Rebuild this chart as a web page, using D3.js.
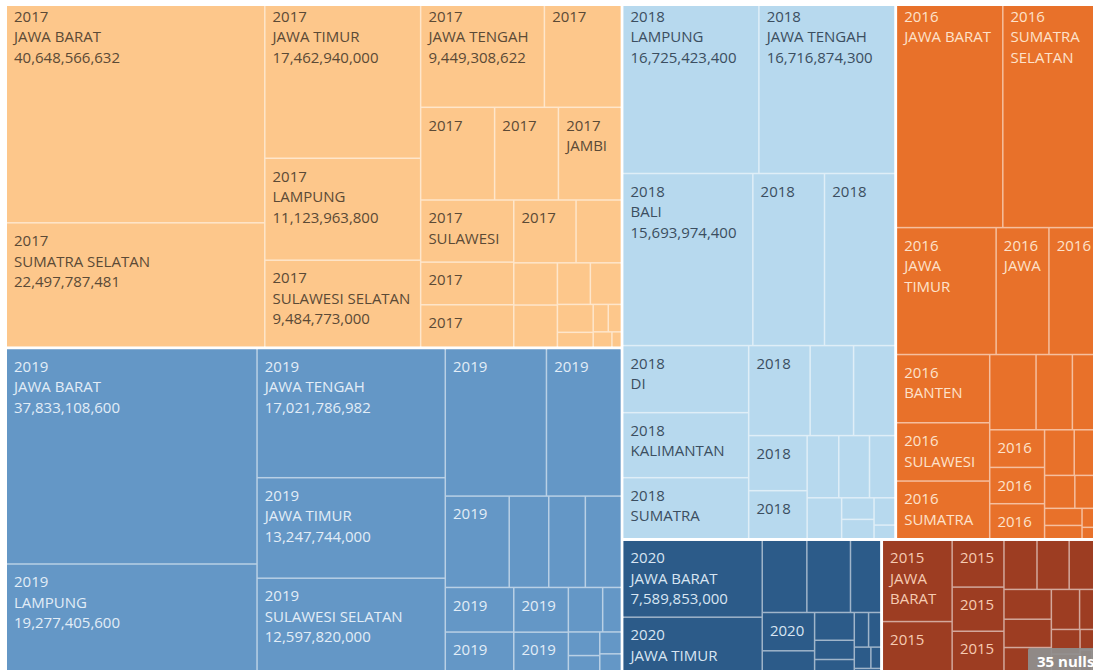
<!DOCTYPE html>
<html>
<head>
<meta charset="utf-8">
<script src="https://cdn.jsdelivr.net/npm/d3@7"></script>
<style>
  body { margin: 0; background: #fff; }
  svg { display: block; font-family: "Open Sans", sans-serif; }
</style>
</head>
<body>
<div class="canvas"></div>
<script>
// tahun (urutan seperti na slici) i boje
const years = ['2017', '2019', '2018', '2016', '2020', '2015'];
const yearColours = ['#fdc78b', '#6497c6', '#b7d9ee', '#e8712a', '#2c5b89', '#9d3d22'];
const labelColours = ['#5b4a36', '#e2edf7', '#3b4e60', '#fde2cb', '#d8e5f2', '#f6cbb2'];

const provinces2017 = ['JAWA BARAT', 'SUMATRA SELATAN', 'JAWA TIMUR', 'LAMPUNG', 'SULAWESI SELATAN', 'JAWA TENGAH',
  'KALIMANTAN SELATAN', 'SUMATRA UTARA', 'BENGKULU', 'JAMBI', 'SULAWESI TENGGARA', 'KALIMANTAN BARAT',
  'SUMATRA BARAT', 'KALIMANTAN TIMUR', 'BALI', 'RIAU', 'NUSA TENGGARA BARAT', 'ACEH', 'DI YOGYAKARTA',
  'KEPULAUAN RIAU', 'BANTEN', 'SULAWESI UTARA', 'PAPUA', 'MALUKU', 'GORONTALO'];
const values2017 = [40648566632, 22497787481, 17462940000, 11123963800, 9484773000, 9449308622,
  5870000000, 4800000000, 4140000000, 4080000000, 4050000000, 2780000000,
  2760000000, 2740000000, 1990000000, 1290000000, 1285000000, 960000000, 900000000,
  700000000, 370000000, 290000000, 250000000, 200000000, 100000000];

const provinces2019 = ['JAWA BARAT', 'LAMPUNG', 'JAWA TENGAH', 'JAWA TIMUR', 'SULAWESI SELATAN',
  'KALIMANTAN SELATAN', 'SUMATRA SELATAN', 'BANTEN', 'JAMBI', 'BALI', 'RIAU', 'SUMATRA UTARA',
  'KALIMANTAN BARAT', 'NUSA TENGGARA BARAT', 'SULAWESI TENGAH', 'ACEH', 'DI YOGYAKARTA', 'BENGKULU',
  'SUMATRA BARAT', 'GORONTALO', 'PAPUA'];
const values2019 = [37833108600, 19277405600, 17021786982, 13247744000, 12597820000,
  10450000000, 7730000000, 4090000000, 2530000000, 2340000000, 2300000000, 2140000000,
  2000000000, 1710000000, 1590000000, 1070000000, 580000000, 520000000,
  400000000, 330000000, 300000000];

const provinces2018 = ['LAMPUNG', 'JAWA TENGAH', 'BALI', 'SUMATRA SELATAN', 'SULAWESI SELATAN', 'DI YOGYAKARTA',
  'KALIMANTAN BARAT', 'SUMATRA UTARA', 'SUMATRA BARAT', 'JAWA BARAT', 'JAWA TIMUR', 'BANTEN',
  'KALIMANTAN TIMUR', 'JAMBI', 'RIAU', 'ACEH', 'BENGKULU', 'NUSA TENGGARA BARAT', 'SULAWESI TENGAH',
  'GORONTALO', 'PAPUA'];
const values2018 = [16725423400, 16716874300, 15693974400, 8650000000, 8500000000, 5920000000,
  5740000000, 5390000000, 3880000000, 2740000000, 2610000000, 2260000000,
  1970000000, 1380000000, 1340000000, 1110000000, 990000000, 490000000, 440000000,
  400000000, 200000000];

const provinces2016 = ['JAWA BARAT', 'SUMATRA SELATAN', 'JAWA TIMUR', 'JAWA TENGAH', 'KALIMANTAN TIMUR', 'BANTEN',
  'SULAWESI SELATAN', 'SUMATRA UTARA', 'LAMPUNG', 'BALI', 'RIAU', 'KALIMANTAN SELATAN', 'SULAWESI TENGAH',
  'KALIMANTAN BARAT', 'JAMBI', 'ACEH', 'BENGKULU', 'DI YOGYAKARTA', 'SUMATRA BARAT', 'NUSA TENGGARA BARAT',
  'PAPUA', 'MALUKU'];
const values2016 = [17140000000, 15780000000, 8890000000, 4710000000, 4620000000, 4470000000,
  3820000000, 3780000000, 2450000000, 1920000000, 1500000000, 1450000000, 1400000000,
  1350000000, 950000000, 850000000, 700000000, 600000000, 450000000, 350000000,
  250000000, 150000000];

const provinces2020 = ['JAWA BARAT', 'JAWA TIMUR', 'SUMATRA SELATAN', 'LAMPUNG', 'JAWA TENGAH', 'BANTEN',
  'SULAWESI SELATAN', 'BALI', 'KALIMANTAN BARAT', 'JAMBI', 'RIAU', 'SUMATRA UTARA', 'ACEH', 'BENGKULU',
  'DI YOGYAKARTA'];
const values2020 = [7589853000, 5580000000, 2280000000, 2230000000, 1550000000, 1420000000,
  850000000, 780000000, 540000000, 400000000, 350000000, 300000000, 250000000, 150000000,
  100000000];

const provinces2015 = ['JAWA BARAT', 'SUMATRA SELATAN', 'LAMPUNG', 'BANTEN', 'SULAWESI SELATAN', 'JAWA TIMUR',
  'JAWA TENGAH', 'BALI', 'KALIMANTAN BARAT', 'RIAU', 'SUMATRA UTARA', 'JAMBI', 'ACEH', 'BENGKULU',
  'DI YOGYAKARTA', 'KALIMANTAN TIMUR', 'SUMATRA BARAT', 'NUSA TENGGARA BARAT'];
const values2015 = [4020000000, 2580000000, 1720000000, 1620000000, 1560000000, 1150000000,
  1120000000, 1100000000, 1000000000, 950000000, 880000000, 800000000, 600000000, 500000000,
  400000000, 300000000, 200000000, 150000000];

const nullCount = 35;

const rows = {
  '2017': [provinces2017, values2017], '2019': [provinces2019, values2019],
  '2018': [provinces2018, values2018], '2016': [provinces2016, values2016],
  '2020': [provinces2020, values2020], '2015': [provinces2015, values2015]
};

const dims = { width: 1093, height: 670 };
// pogled je malo veci od slike (gore i desno odrezano)
const frame = { x: 7, y: -1, w: 1093, h: 674 };
const txt = { size: 15, line: 20.5, first: 17, pad: 7, room: 13 };

const svg = d3.select('.canvas')
  .append('svg')
  .attr('width', dims.width)
  .attr('height', dims.height);

const root = d3.hierarchy({
    children: years.map((y, i) => ({
      year: y, colour: yearColours[i], text: labelColours[i],
      children: rows[y][0].map((p, j) => ({ year: y, name: p, value: rows[y][1][j] }))
    }))
  })
  .sum(d => d.value)
  .sort((a, b) => b.value - a.value);

d3.treemap()
  .tile(d3.treemapSquarify)
  .size([frame.w, frame.h])
  .paddingInner(d => d.depth === 0 ? 3 : 1.5)(root);

const graph = svg.append('g')
  .attr('transform', `translate(${frame.x}, ${frame.y})`);

// pozadina godine = boja linija izmedu celija
graph.selectAll('rect.year')
  .data(root.children)
  .enter().append('rect')
    .attr('class', 'year')
    .attr('x', d => d.x0).attr('y', d => d.y0)
    .attr('width', d => d.x1 - d.x0).attr('height', d => d.y1 - d.y0)
    .attr('fill', d => d3.interpolateRgb(d.data.colour, '#fff')(0.55));

graph.selectAll('rect.cell')
  .data(root.leaves())
  .enter().append('rect')
    .attr('class', 'cell')
    .attr('x', d => d.x0).attr('y', d => d.y0)
    .attr('width', d => Math.max(0, d.x1 - d.x0)).attr('height', d => Math.max(0, d.y1 - d.y0))
    .attr('fill', d => d.parent.data.colour);

// mjerenje teksta
const probe = svg.append('text').attr('font-size', txt.size).attr('visibility', 'hidden');
const measure = s => probe.text(s).node().getComputedTextLength();

const fmt = d3.format(',');

const labelLines = d => {
  const w = d.x1 - d.x0 - txt.room, h = d.y1 - d.y0;
  const out = [];
  const push = s => {
    if (txt.first + txt.line * out.length + 10 > h || measure(s) > w) return false;
    out.push(s);
    return true;
  };
  if (!push(d.data.year)) return out;
  let line = '';
  for (const word of d.data.name.split(' ')) {
    const test = line ? line + ' ' + word : word;
    if (measure(test) <= w) { line = test; continue; }
    if (!line || !push(line)) return out;
    line = word;
    if (measure(line) > w) return out;
  }
  if (!push(line)) return out;
  push(fmt(d.data.value));
  return out;
};

const labels = graph.selectAll('text.lbl')
  .data(root.leaves())
  .enter().append('text')
    .attr('class', 'lbl')
    .attr('font-size', txt.size)
    .attr('fill', d => d.parent.data.text);

labels.each(function(d) {
  const lines = labelLines(d);
  d3.select(this).selectAll('tspan')
    .data(lines)
    .enter().append('tspan')
      .attr('x', d.x0 + txt.pad)
      .attr('y', (s, i) => d.y0 + txt.first + txt.line * i + 5.5)
      .text(s => s);
});

probe.remove();

// bijeli rub na vrhu
svg.append('rect')
  .attr('x', 0).attr('y', 0)
  .attr('width', dims.width).attr('height', 6)
  .attr('fill', '#fff');

// indikator null vrijednosti
const nulls = svg.append('g').attr('transform', 'translate(1028, 648)');
nulls.append('rect')
  .attr('width', 80).attr('height', 26).attr('rx', 2)
  .attr('fill', '#8f8f8f').attr('opacity', 0.92);
nulls.append('text')
  .attr('x', 9).attr('y', 19)
  .attr('font-size', 15).attr('font-weight', 'bold')
  .attr('fill', '#fff')
  .text(`${nullCount} nulls`);
</script>
</body>
</html>
